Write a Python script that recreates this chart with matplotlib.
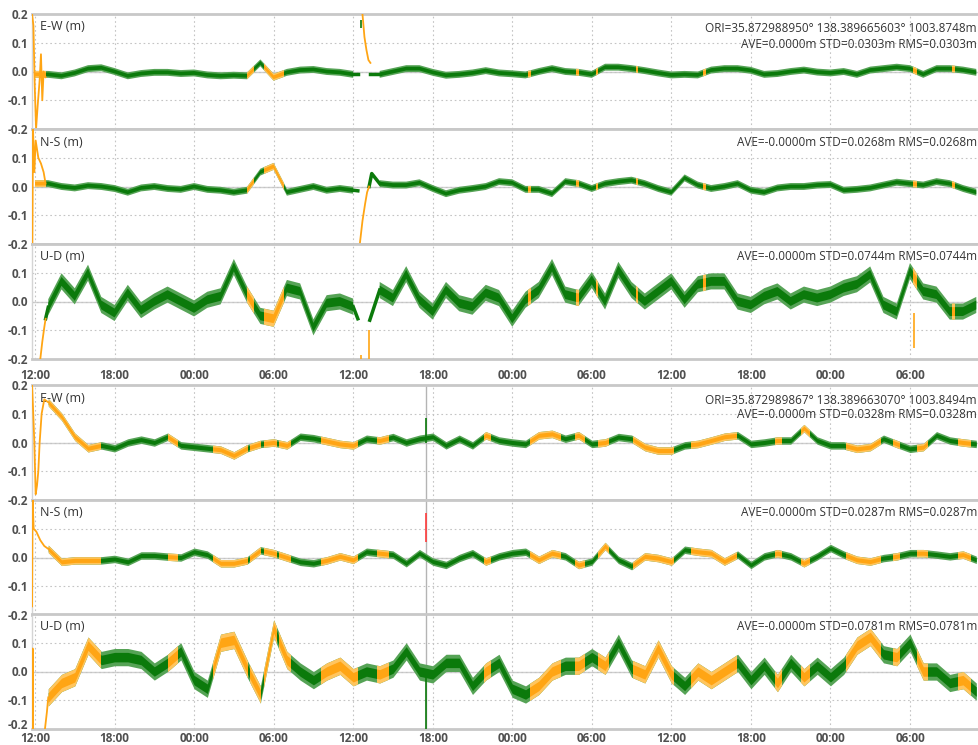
import numpy as np
import matplotlib.pyplot as plt
from matplotlib.patches import Rectangle
from matplotlib.transforms import ScaledTranslation

plt.rcParams['font.family'] = ['Open Sans', 'DejaVu Sans']

GREEN = '#0b7a0b'
GREEN_EDGE = '#56a356'
ORANGE = '#ffa514'
ORANGE_EDGE = '#ffc55e'
nan = np.nan

# hourly samples, hour 0 = 12:00 of the first day
hours = np.arange(72)
tick_hours = [0, 6, 12, 18, 24, 30, 36, 42, 48, 54, 60, 66]
tick_labels = ['12:00', '18:00', '00:00', '06:00'] * 3

# --- first session (top three panels) ---
ew_a = [-0.01, -0.01, -0.015, -0.005, 0.01, 0.013, 0.0, -0.015, -0.007, -0.003,
        -0.003, -0.007, -0.005, -0.012, -0.015, -0.013, -0.015, 0.03, -0.02, -0.003,
        0.005, 0.007, 0.0, -0.003, -0.01, nan, -0.01, 0.0, 0.01, 0.01,
        -0.003, -0.013, -0.01, -0.005, 0.003, -0.005, -0.008, -0.012, 0.0, 0.01,
        0.0, -0.003, -0.01, 0.015, 0.015, 0.01, 0.003, -0.005, -0.012, -0.01,
        -0.012, 0.005, 0.01, 0.01, 0.004, -0.01, -0.007, 0.0, 0.005, -0.002,
        -0.005, 0.0, -0.01, 0.005, 0.01, 0.015, 0.01, -0.01, 0.01, 0.01,
        0.005, -0.003]
ns_a = [0.01, 0.01, 0.0, -0.005, 0.003, 0.0, -0.007, -0.02, -0.005, 0.0,
        -0.007, -0.01, 0.0, -0.01, -0.013, -0.02, -0.013, 0.05, 0.07, -0.02,
        -0.01, 0.0, -0.013, -0.007, -0.013, nan, 0.01, 0.005, 0.005, 0.013,
        -0.007, -0.025, -0.013, -0.007, 0.0, 0.017, 0.013, -0.01, -0.01, -0.025,
        0.017, 0.01, -0.007, 0.01, 0.017, 0.022, 0.01, -0.007, -0.02, 0.03,
        0.005, -0.007, 0.0, 0.01, -0.013, -0.02, -0.005, 0.0, 0.0, 0.005,
        0.007, -0.013, -0.01, -0.005, 0.005, 0.015, 0.01, 0.005, 0.017, 0.01,
        -0.007, -0.02]
ud_a = [nan, -0.02, 0.07, 0.018, 0.1, -0.012, -0.04, 0.03, -0.03, 0.0,
        0.024, 0.0, -0.024, 0.006, 0.018, 0.12, 0.024, -0.05, -0.06, 0.047,
        0.035, -0.09, -0.006, 0.0, -0.018, nan, 0.04, 0.012, 0.095, 0.006,
        -0.035, 0.04, -0.006, -0.018, 0.03, 0.012, -0.06, 0.006, 0.04, 0.12,
        0.024, 0.012, 0.075, 0.0, 0.11, 0.04, 0.0, 0.035, 0.07, 0.006,
        0.06, 0.07, 0.07, 0.0, -0.012, 0.018, 0.035, 0.0, 0.024, 0.012,
        0.024, 0.047, 0.06, 0.094, -0.012, -0.035, 0.106, 0.035, 0.024, -0.035,
        -0.035, -0.012]

# float-solution periods (hours) of the first session
float_a = [(-0.3, 0.8), (16.0, 16.5), (17.3, 18.8), (24.4, 25.3), (37.2, 37.4),
           (40.8, 41.0), (42.3, 42.5), (45.3, 45.5), (50.4, 50.6), (66.2, 66.5),
           (69.2, 69.4)]

# convergence / re-initialisation tracks
ew_a_conv_t = [-0.22, -0.12, -0.02, 0.08, 0.2, 0.35, 0.45, 0.55, 0.65, 0.8, nan,
               24.7, 24.85, 25.0, 25.15, 25.3]
ew_a_conv_v = [0.2, 0.16, -0.05, -0.2, -0.12, -0.03, 0.06, -0.1, 0.0, -0.02, nan,
               0.2, 0.12, 0.075, 0.04, 0.03]
ew_a_fix_t = [24.0, 24.35, nan, 25.3, 26.0]
ew_a_fix_v = [-0.01, -0.01, nan, -0.01, -0.01]
ns_a_conv_t = [-0.2, -0.15, -0.05, 0.05, 0.25, 0.45, 0.65, 0.8, nan,
               24.5, 24.7, 24.9, 25.05, 25.2]
ns_a_conv_v = [-0.2, 0.2, 0.05, 0.16, 0.1, 0.08, 0.05, 0.01, nan,
               -0.2, -0.12, -0.06, -0.02, 0.0]
ns_a_fix_t = [24.0, 24.35, nan, 25.2, 25.4, 26.0]
ns_a_fix_v = [-0.013, -0.015, nan, 0.0, 0.045, 0.01]
ud_a_conv_t = [0.4, 0.55, 0.7, 0.8]
ud_a_conv_v = [-0.2, -0.14, -0.09, -0.06]
ud_a_fix_t = [0.8, 1.0, nan, 24.0, 24.35, nan, 25.25, 26.0]
ud_a_fix_v = [-0.06, -0.02, nan, -0.018, -0.06, nan, -0.065, 0.04]

# --- second session (bottom three panels) ---
ew_b = [nan, 0.14, 0.09, 0.02, -0.02, -0.01, -0.02, 0.0, 0.01, 0.0,
        0.02, -0.01, -0.015, -0.02, -0.025, -0.045, -0.02, -0.005, 0.0, -0.01,
        0.02, 0.015, 0.005, -0.005, -0.01, 0.013, 0.007, 0.019, 0.0, 0.013,
        0.02, -0.01, 0.013, -0.01, 0.025, 0.007, 0.0, -0.005, 0.025, 0.03,
        0.013, 0.025, -0.005, 0.0, 0.019, 0.013, -0.016, -0.028, -0.028, -0.01,
        -0.005, 0.007, 0.02, 0.025, -0.005, 0.0, 0.007, 0.007, 0.05, 0.007,
        -0.01, -0.01, -0.022, -0.016, 0.013, -0.005, -0.022, -0.016, 0.025, 0.007,
        0.0, -0.005]
ns_b = [nan, 0.03, -0.015, -0.01, -0.01, -0.01, -0.005, -0.015, 0.007, 0.007,
        0.003, 0.0, 0.02, 0.01, -0.02, -0.02, -0.01, 0.025, 0.015, 0.0,
        -0.015, -0.02, -0.01, 0.004, -0.008, 0.02, 0.015, 0.01, -0.02, 0.015,
        -0.014, -0.026, -0.002, 0.015, -0.014, 0.004, 0.015, 0.02, -0.008, 0.015,
        0.004, -0.026, -0.014, 0.04, -0.008, -0.03, 0.004, -0.002, -0.014, 0.027,
        0.02, 0.015, -0.014, 0.01, -0.026, 0.004, 0.015, 0.004, -0.02, 0.004,
        0.033, 0.01, -0.008, -0.014, -0.002, 0.004, 0.015, 0.015, 0.01, 0.004,
        0.01, -0.008]
ud_b = [nan, -0.09, -0.04, -0.02, 0.09, 0.04, 0.05, 0.05, 0.04, 0.0,
        0.03, 0.07, -0.03, -0.06, 0.1, 0.11, 0.01, -0.08, 0.15, 0.04,
        0.0, -0.03, 0.0, 0.02, -0.02, 0.0, -0.01, 0.01, 0.07, 0.0,
        -0.01, 0.03, 0.03, -0.05, 0.0, 0.03, -0.06, -0.08, -0.05, 0.0,
        0.02, 0.02, 0.05, 0.02, 0.1, 0.01, -0.01, 0.08, -0.01, -0.05,
        0.0, -0.03, 0.0, 0.03, -0.03, 0.02, -0.04, 0.03, -0.02, 0.02,
        -0.02, 0.02, 0.09, 0.12, 0.06, 0.05, 0.1, 0.0, 0.0, -0.04,
        -0.03, -0.07]

float_b = [(-0.3, 4.9), (10.0, 10.7), (13.4, 16.0), (16.2, 17.0), (17.3, 18.2),
           (18.4, 19.2), (21.6, 24.3), (25.8, 26.6), (33.9, 34.3), (37.3, 39.6),
           (40.7, 41.4), (42.5, 43.2), (45.1, 48.1), (49.5, 52.9), (55.8, 56.3),
           (57.8, 58.4), (61.2, 63.7), (64.7, 65.2), (66.5, 67.3), (69.6, 70.5)]

ew_b_conv_t = [-0.22, -0.15, -0.05, 0.05, 0.15, 0.25, 0.35, 0.5, 0.7, 1.0]
ew_b_conv_v = [0.2, 0.12, 0.0, -0.18, -0.15, -0.1, 0.0, 0.1, 0.15, 0.14]
ns_b_conv_t = [-0.22, -0.18, -0.1, 0.1, 0.4, 0.7, 1.0]
ns_b_conv_v = [-0.17, 0.2, 0.1, 0.09, 0.06, 0.04, 0.03]
ud_b_conv_t = [-0.22, -0.18, -0.14, nan, 0.75, 0.9, 1.0]
ud_b_conv_v = [-0.2, 0.08, -0.2, nan, -0.2, -0.14, -0.09]

# isolated outliers: (hour, low, high, colour)
ud_a_spikes = [(24.6, -0.2, -0.185, ORANGE), (25.2, -0.2, -0.1, ORANGE),
               (66.3, -0.16, -0.04, ORANGE)]
ew_a_spikes = [(24.6, 0.15, 0.18, GREEN)]
ew_b_spikes = [(29.47, 0.0, 0.085, GREEN)]
ns_b_spikes = [(29.47, 0.055, 0.155, '#ff3b3b')]
ud_b_spikes = [(29.47, -0.2, -0.02, GREEN)]
cursor_hour = 29.47

ori_a = 'ORI=35.872988950\u00b0 138.389665603\u00b0 1003.8748m'
ori_b = 'ORI=35.872989867\u00b0 138.389663070\u00b0 1003.8494m'

panels = [
    dict(label='E-W (m)', v=ew_a, spread=0.012, floats=float_a, ori=ori_a,
         stats='AVE=0.0000m STD=0.0303m RMS=0.0303m',
         conv=(ew_a_conv_t, ew_a_conv_v), fix=(ew_a_fix_t, ew_a_fix_v), spikes=ew_a_spikes),
    dict(label='N-S (m)', v=ns_a, spread=0.012, floats=float_a, ori=None,
         stats='AVE=-0.0000m STD=0.0268m RMS=0.0268m',
         conv=(ns_a_conv_t, ns_a_conv_v), fix=(ns_a_fix_t, ns_a_fix_v), spikes=[]),
    dict(label='U-D (m)', v=ud_a, spread=0.028, floats=float_a, ori=None,
         stats='AVE=-0.0000m STD=0.0744m RMS=0.0744m',
         conv=(ud_a_conv_t, ud_a_conv_v), fix=(ud_a_fix_t, ud_a_fix_v), spikes=ud_a_spikes),
    dict(label='E-W (m)', v=ew_b, spread=0.013, floats=float_b, ori=ori_b,
         stats='AVE=-0.0000m STD=0.0328m RMS=0.0328m',
         conv=(ew_b_conv_t, ew_b_conv_v), fix=None, spikes=ew_b_spikes),
    dict(label='N-S (m)', v=ns_b, spread=0.013, floats=float_b, ori=None,
         stats='AVE=0.0000m STD=0.0287m RMS=0.0287m',
         conv=(ns_b_conv_t, ns_b_conv_v), fix=None, spikes=ns_b_spikes),
    dict(label='U-D (m)', v=ud_b, spread=0.03, floats=float_b, ori=None,
         stats='AVE=-0.0000m STD=0.0781m RMS=0.0781m',
         conv=(ud_b_conv_t, ud_b_conv_v), fix=None, spikes=ud_b_spikes),
]

W, H = 979, 745
panel_tops = [14, 129, 244, 385, 500, 614]
panel_h = 115
x0_px, x1_px = 32, 985
px_per_hour = 875 / 66.0


def ribbon(ax, t, v, s, color, edge, span=None):
    v = np.asarray(v, float)
    outer = ax.fill_between(t, v - s, v + s, color=edge, lw=0, zorder=3)
    inner = ax.fill_between(t, v - s * 0.55, v + s * 0.55, color=color, lw=0, zorder=3)
    if span is not None:
        for c in (outer, inner):
            c.set_clip_path(Rectangle((span[0], -1), span[1] - span[0], 2,
                                      transform=ax.transData))


fig = plt.figure(figsize=(W / 100, H / 100), dpi=100)

for i, p in enumerate(panels):
    top = panel_tops[i]
    ax = fig.add_axes([x0_px / W, 1 - (top + panel_h) / H,
                       (x1_px - x0_px) / W, panel_h / H])
    ax.set_xlim(-3 / px_per_hour, (x1_px - 35) / px_per_hour)
    ax.set_ylim(-0.2, 0.2)

    ax.set_yticks([-0.2, -0.1, 0.0, 0.1, 0.2])
    first = i in (0, 3)
    ax.set_yticklabels(['-0.2', '-0.1', '0.0', '0.1', '0.2' if first else ''])
    ax.set_xticks(tick_hours)
    if i in (2, 5):
        ax.set_xticklabels(tick_labels)
    else:
        ax.set_xticklabels([])
    ax.tick_params(length=0, labelsize=8.5, colors='#505050')
    ax.tick_params(axis='y', pad=3)
    ax.tick_params(axis='x', pad=7 if i == 2 else 2)
    for lab in ax.get_yticklabels() + ax.get_xticklabels():
        lab.set_fontweight('bold')
    if i == 5:
        # lift the lowest y label so it clears the time labels underneath
        low = ax.get_yticklabels()[0]
        low.set_transform(low.get_transform() +
                          ScaledTranslation(0, 5 / 100, fig.dpi_scale_trans))

    ax.grid(True, ls=(0, (1.5, 2.5)), color='#c4c4c4', lw=0.8, zorder=0)
    ax.axhline(0, color='#cfcfcf', lw=1.0, zorder=1)
    for side in ('top', 'bottom'):
        ax.spines[side].set_color('#c8c8c8')
        ax.spines[side].set_linewidth(2)
    ax.spines['left'].set_color('#d4d4d4')
    ax.spines['left'].set_linewidth(1)
    ax.spines['right'].set_visible(False)

    if i >= 3:
        ax.axvline(cursor_hour, color='#b4b4b4', lw=1, zorder=2)

    ax.text(8 / (x1_px - x0_px), 1 - 13 / panel_h, p['label'], transform=ax.transAxes,
            fontsize=9, color='#333333', va='center', ha='left', zorder=2)
    right = 1 - 8 / (x1_px - x0_px)
    if p['ori']:
        ax.text(right, 1 - 15 / panel_h, p['ori'], transform=ax.transAxes,
                fontsize=8.5, color='#333333', va='center', ha='right', zorder=2)
        ax.text(right, 1 - 30 / panel_h, p['stats'], transform=ax.transAxes,
                fontsize=8.5, color='#333333', va='center', ha='right', zorder=2)
    else:
        ax.text(right, 1 - 13 / panel_h, p['stats'], transform=ax.transAxes,
                fontsize=8.5, color='#333333', va='center', ha='right', zorder=2)

    # fixed solution everywhere, float periods painted over it
    ribbon(ax, hours, p['v'], p['spread'], GREEN, GREEN_EDGE)
    for span in p['floats']:
        ribbon(ax, hours, p['v'], p['spread'], ORANGE, ORANGE_EDGE, span)

    if p['fix']:
        ax.plot(p['fix'][0], p['fix'][1], color=GREEN, lw=2.5, zorder=4)
    ax.plot(p['conv'][0], p['conv'][1], color=ORANGE, lw=1.3, zorder=4)
    for t, lo, hi, c in p['spikes']:
        ax.vlines(t, lo, hi, color=c, lw=1.2, zorder=5)

fig.savefig('out.png', dpi=100)
